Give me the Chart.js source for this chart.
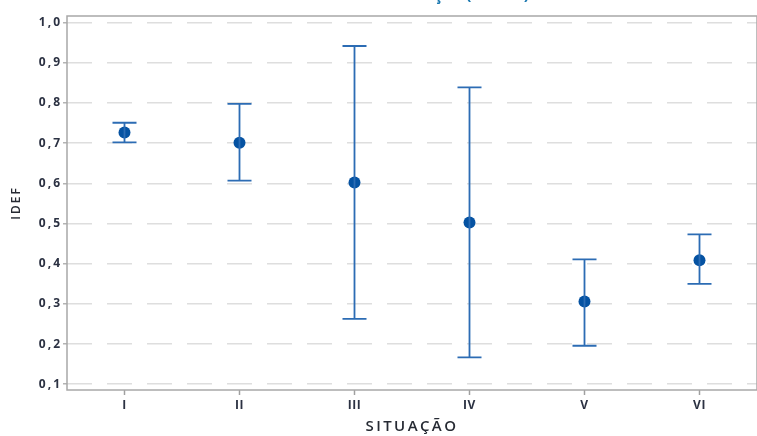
<!DOCTYPE html>
<html>
<head>
<meta charset="utf-8">
<script src="https://cdn.jsdelivr.net/npm/chart.js@4/dist/chart.umd.min.js"></script>
<style>
html,body{margin:0;padding:0;background:#fff;overflow:hidden;width:757px;height:436px;}
#wrap{position:absolute;left:0;top:0;width:763px;height:436px;}
</style>
</head>
<body>
<div id="wrap"><canvas id="c" width="763" height="436"></canvas></div>
<script>
const categories = ['I','II','III','IV','V','VI'];
const means = [0.727, 0.701, 0.602, 0.503, 0.306, 0.409];
const upper = [0.751, 0.798, 0.942, 0.839, 0.411, 0.473];
const lower = [0.702, 0.607, 0.263, 0.167, 0.196, 0.350];
const yTicks = [0.1,0.2,0.3,0.4,0.5,0.6,0.7,0.8,0.9,1.0];

const errorBars = {
  id:'errorBars',
  afterDatasetsDraw(chart){
    const ctx = chart.ctx, x = chart.scales.x, y = chart.scales.y;
    ctx.save();
    ctx.strokeStyle = '#2c6cb4';
    ctx.lineWidth = 1.8;
    const cap = 12;
    for (let i=0;i<categories.length;i++){
      const px = x.getPixelForValue(i);
      const pu = y.getPixelForValue(upper[i]);
      const pl = y.getPixelForValue(lower[i]);
      ctx.beginPath();
      ctx.moveTo(px,pu); ctx.lineTo(px,pl);
      ctx.moveTo(px-cap,pu); ctx.lineTo(px+cap,pu);
      ctx.moveTo(px-cap,pl); ctx.lineTo(px+cap,pl);
      ctx.stroke();
    }
    ctx.restore();
  }
};

const frame = {
  id:'frame',
  beforeDatasetsDraw(chart){
    const {ctx, chartArea:a} = chart;
    ctx.save();
    ctx.strokeStyle = '#a8a8a8';
    ctx.lineWidth = 1.5;
    ctx.strokeRect(a.left, a.top, a.right-a.left, a.bottom-a.top);
    ctx.restore();
  }
};

function spaced(scale, method, sp){
  const key = '_orig_' + method;
  if (scale[key]) return;
  const orig = scale[method];
  scale[key] = orig;
  scale[method] = function(...args){
    const ctx = this.ctx;
    const prev = ctx.letterSpacing;
    ctx.letterSpacing = sp;
    try { orig.apply(this, args); } finally { ctx.letterSpacing = prev; }
  };
}

const spacing = {
  id:'spacing',
  beforeDraw(chart){
    spaced(chart.scales.y, 'drawLabels', '2px');
    spaced(chart.scales.y, 'drawTitle', '2px');
    spaced(chart.scales.x, 'drawTitle', '2.4px');
    spaced(chart.scales.x, 'drawLabels', '0.6px');
  }
};

const clippedTitle = {
  id:'clippedTitle',
  afterDraw(chart){
    const ctx = chart.ctx;
    ctx.save();
    ctx.letterSpacing = '0px';
    ctx.font = 'bold 16px "Open Sans"';
    ctx.fillStyle = '#1b78b0';
    ctx.textAlign = 'left';
    ctx.textBaseline = 'alphabetic';
    const txt = 'Intervalo de IDEF vs Situação (95% IC)';
    const pre = 'Intervalo de IDEF vs Situação ';
    const x0 = 466 - ctx.measureText(pre).width;
    ctx.fillText(txt, x0, 0);
    ctx.restore();
  }
};

new Chart(document.getElementById('c'), {
  type:'line',
  data:{
    labels:categories,
    datasets:[{
      data:means,
      showLine:false,
      pointRadius:6,
      pointHoverRadius:6,
      pointBackgroundColor:'#0552a2',
      pointBorderColor:'#0552a2',
      pointBorderWidth:0
    }]
  },
  options:{
    responsive:false,
    animation:false,
    layout:{padding:{top:16,right:0,left:0,bottom:0}},
    plugins:{legend:{display:false},tooltip:{enabled:false}},
    scales:{
      x:{
        type:'category',
        offset:true,
        afterFit(s){ s.height = 46; },
        grid:{drawOnChartArea:false,drawTicks:true,tickLength:5,tickColor:'#a0a0a0',tickWidth:1.5},
        border:{display:false},
        ticks:{color:'#2b3142',font:{family:'"Open Sans"',size:12,weight:'700'},padding:3},
        title:{display:true,text:'SITUAÇÃO',color:'#262a33',font:{family:'"Open Sans"',size:15,weight:'600'},padding:{top:0,bottom:0}}
      },
      y:{
        min:0.0858,
        max:1.0167,
        afterFit(s){ s.width = 67; },
        afterBuildTicks(s){ s.ticks = yTicks.map(v=>({value:v})); },
        grid:{color:'#dedede',lineWidth:1.6,tickLength:4,tickColor:'#a0a0a0',tickWidth:1.2,tickBorderDash:[]},
        border:{display:false,dash:[25,15]},
        ticks:{color:'#2b3142',font:{family:'"Open Sans"',size:12,weight:'700'},padding:1,
          callback:(v)=>Number(v).toFixed(1).replace('.',',')},
        title:{display:true,text:'IDEF',color:'#262a33',font:{family:'"Open Sans"',size:12,weight:'600'},padding:{top:9,bottom:0}}
      }
    }
  },
  plugins:[spacing, frame, errorBars, clippedTitle]
});
</script>
</body>
</html>
